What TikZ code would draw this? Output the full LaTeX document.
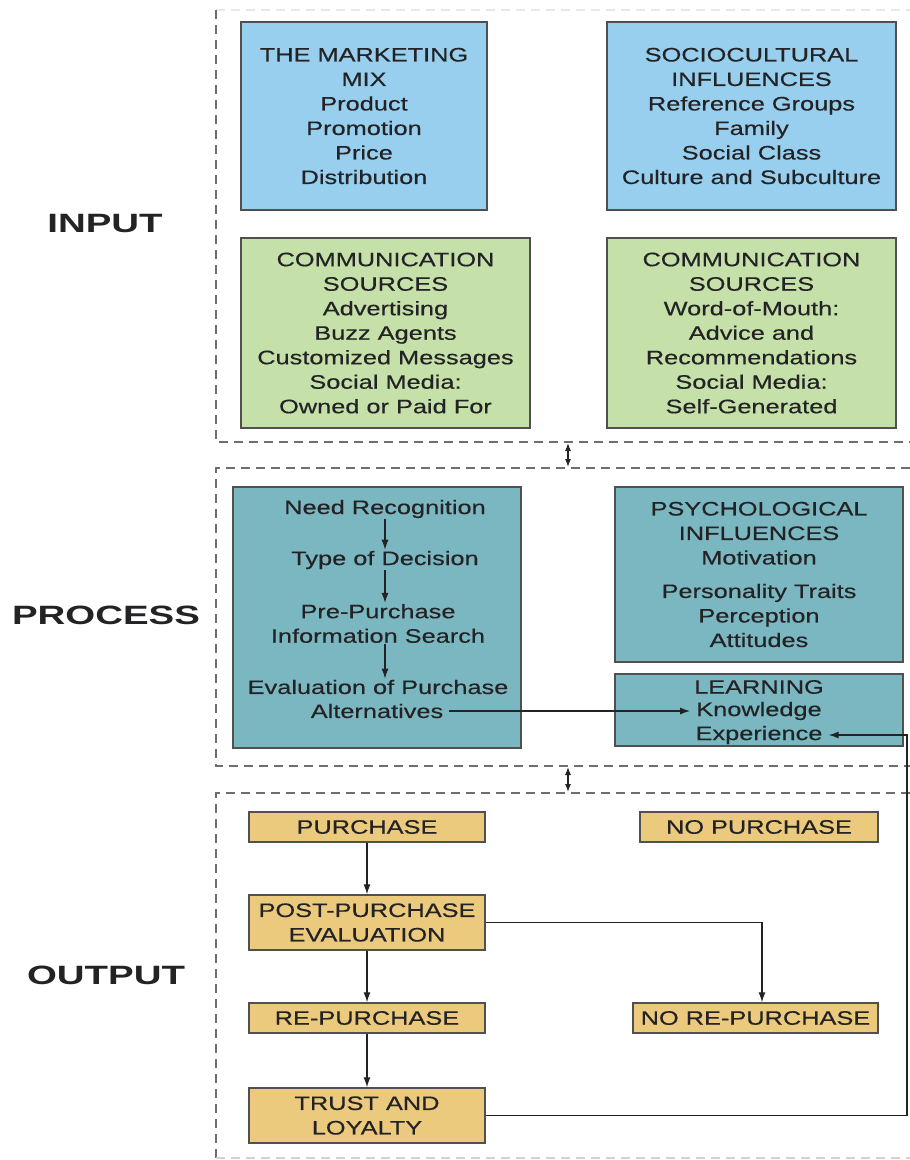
\documentclass[tikz,border=0pt]{standalone}
\usepackage{fontspec}
\setmainfont[FakeStretch=1.3,FakeBold=0.4]{Liberation Sans}
\newfontfamily\labelfont[FakeStretch=1.45]{Liberation Sans}
\usetikzlibrary{arrows.meta}
\definecolor{mmblue}{RGB}{152,207,238}
\definecolor{csgreen}{RGB}{197,224,169}
\definecolor{prteal}{RGB}{123,183,192}
\definecolor{outorange}{RGB}{236,202,125}
\definecolor{bordergray}{RGB}{80,80,80}
\definecolor{txt}{RGB}{35,35,38}
\definecolor{dashgray}{RGB}{110,110,110}
\tikzset{
  box/.style={draw=bordergray, line width=1.4pt, inner sep=0pt, align=center, text=txt,
    font=\fontsize{19.5}{24.5}\selectfont},
  ptext/.style={inner sep=1pt, align=center, text=txt, font=\fontsize{19.5}{24.5}\selectfont},
  lab/.style={text=txt, font=\labelfont\bfseries\fontsize{26.5}{30}\selectfont},
  frame/.style={draw=dashgray, line width=1.8pt, dash pattern=on 9pt off 6pt},
  arr/.style={draw=txt, line width=1.2pt, -{Latex[length=10pt,width=7pt]}},
  darr/.style={draw=txt, line width=1.2pt, {Latex[length=8pt,width=6pt]}-{Latex[length=8pt,width=6pt]}},
  conn/.style={draw=bordergray, line width=1.3pt}
}
\begin{document}
\begin{tikzpicture}[x=1pt,y=-1pt]
\useasboundingbox (0,0) rectangle (910,1160);
% frames
\draw[frame, draw=gray!18] (216,10) -- (910,10);
\draw[frame] (216,10) -- (216,442) -- (910,442);
\draw[frame] (910,468) -- (216,468) -- (216,766) -- (910,766);
\draw[frame] (910,793) -- (216,793) -- (216,1158);
\draw[frame, draw=gray!35] (216,1158) -- (910,1158);
\coordinate (f1b) at (568,443);
\coordinate (f2t) at (568,467);
\coordinate (f2b) at (568,767);
\coordinate (f3t) at (568,792);
\draw[darr] (f1b) -- (f2t);
\draw[darr] (f2b) -- (f3t);
% labels
\node[lab] (input) at (105,224) {INPUT};
\node[lab] (process) at (106,615) {PROCESS};
\node[lab] (output) at (106,975) {OUTPUT};
% input boxes
\node[box, fill=mmblue, minimum width=246pt, minimum height=188pt] (mm) at (364,116)
  {THE MARKETING\\MIX\\Product\\Promotion\\Price\\Distribution};
\node[box, fill=mmblue, minimum width=289pt, minimum height=188pt] (socio) at (751.5,116)
  {SOCIOCULTURAL\\INFLUENCES\\Reference Groups\\Family\\Social Class\\Culture and Subculture};
\node[box, fill=csgreen, minimum width=289pt, minimum height=190pt] (csl) at (385.5,333)
  {COMMUNICATION\\SOURCES\\Advertising\\Buzz Agents\\Customized Messages\\Social Media:\\Owned or Paid For};
\node[box, fill=csgreen, minimum width=289pt, minimum height=190pt] (csr) at (751.5,333)
  {COMMUNICATION\\SOURCES\\Word-of-Mouth:\\Advice and\\Recommendations\\Social Media:\\Self-Generated};
% process boxes
\node[box, fill=prteal, minimum width=288pt, minimum height=261pt] (proc) at (377,617.5) {};
\node[box, fill=prteal, minimum width=288pt, minimum height=175pt] (psych) at (759,574.5)
  {PSYCHOLOGICAL\\INFLUENCES\\Motivation\\[9pt]Personality Traits\\Perception\\Attitudes};
\node[box, fill=prteal, minimum width=288pt, minimum height=72pt] (learn) at (759,710) {};
\node[ptext] (lrn) at (759,687) {LEARNING};
\node[ptext, inner xsep=6pt] (know) at (759,711) {Knowledge};
\node[ptext, inner xsep=6pt] (exp) at (759,735) {Experience};
\node[ptext] (need) at (385,509) {Need Recognition};
\node[ptext] (type) at (385,560) {Type of Decision};
\node[ptext] (pre) at (378,623.5) {Pre-Purchase\\Information Search};
\node[ptext] (eval) at (378,687) {Evaluation of Purchase};
\node[ptext, inner xsep=6pt] (alt) at (377,711) {Alternatives};
\draw[arr] (need.south) -- (type.north);
\draw[arr] (type.south) -- (type.south |- pre.north);
\draw[arr] (pre.south -| need.south) -- (eval.north -| need.south);
\draw[arr] (alt.east) -- (know.west);
% output boxes
\node[box, fill=outorange, minimum width=236pt, minimum height=30pt] (pur) at (367,827) {PURCHASE};
\node[box, fill=outorange, minimum width=238pt, minimum height=30pt] (nopur) at (759,827) {NO PURCHASE};
\node[box, fill=outorange, minimum width=236pt, minimum height=55pt] (post) at (367,922.5) {POST-PURCHASE\\EVALUATION};
\node[box, fill=outorange, minimum width=236pt, minimum height=30pt] (rep) at (367,1018) {RE-PURCHASE};
\node[box, fill=outorange, minimum width=245pt, minimum height=30pt] (norep) at (755.5,1018) {NO RE-PURCHASE};
\node[box, fill=outorange, minimum width=236pt, minimum height=55pt] (trust) at (367,1115.5) {TRUST AND\\LOYALTY};
\draw[arr] (pur) -- (post);
\draw[arr] (post) -- (rep);
\draw[arr] (rep) -- (trust);
\draw[arr] (post.east) -| ([xshift=6.5pt]norep.north);
\coordinate (rc) at (907,1115.5);
\draw[arr] (trust.east) -- (rc) |- (exp.east);
\end{tikzpicture}
\end{document}
